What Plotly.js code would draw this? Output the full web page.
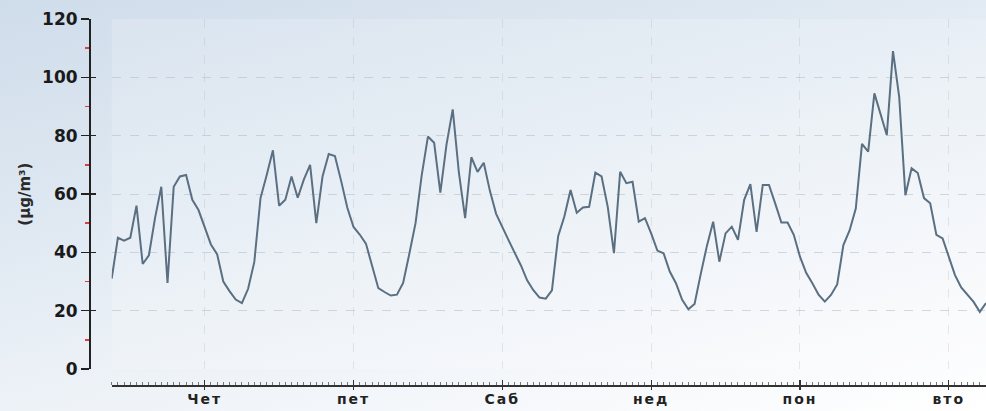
<!DOCTYPE html>
<html>
<head>
<meta charset="utf-8">
<script src="https://cdn.plot.ly/plotly-3.0.1.min.js"></script>
<style>
  html, body { margin: 0; padding: 0; }
  body {
    width: 986px; height: 411px; overflow: hidden;
    background: linear-gradient(165deg, #cfdcea 0%, #dde7f1 30%, #eaf0f6 55%, #f6f8fb 80%, #ffffff 100%);
  }
  #chart { width: 986px; height: 411px; }
  .xaxislayer-above .xtick text { letter-spacing: 2px; }
</style>
</head>
<body>
<div id="chart"></div>
<script>
// Hourly PM concentration (µg/m³), starting Wednesday 09:00
const values = [
  31, 45, 44, 45, 56, 36, 39, 51.9, 62.5, 29.5,
  62.5, 66, 66.5, 58, 54.5, 48.5, 42.7, 39.4, 30, 26.7,
  23.8, 22.6, 27.5, 36.7, 58.6, 66.5, 75, 56, 58, 66,
  58.7, 65, 70, 50, 66, 73.7, 73, 64.5, 55.3, 48.7,
  46.1, 43, 35.4, 27.7, 26.4, 25.2, 25.5, 29.5, 39.5, 50,
  66.5, 79.7, 77.6, 60.5, 77, 89, 67.2, 51.7, 72.6, 67.6,
  70.7, 61, 53.2, 48.5, 44.2, 39.8, 35.5, 30.4, 27, 24.5,
  24.1, 27, 45.5, 52.3, 61.4, 53.6, 55.4, 55.6, 67.3, 66,
  55.6, 39.7, 67.6, 63.7, 64.2, 50.5, 51.7, 46.5, 40.6, 39.7,
  33.4, 29.4, 23.7, 20.5, 22.3, 32.6, 42.3, 50.5, 36.8, 46.5,
  48.8, 44.3, 58, 63.4, 47, 63.1, 63.1, 56.8, 50.2, 50.2,
  46, 38.5, 33, 29.4, 25.5, 23.1, 25.4, 29, 42.5, 47.5,
  55, 77.2, 74.5, 94.5, 87, 80.2, 109, 93.3, 59.6, 68.8,
  67.2, 58.6, 56.8, 46, 44.8, 38.5, 32.2, 28, 25.4, 23,
  19.6, 22.6
];
const hours = values.map((v, i) => i);
const dayTickHours = [15, 39, 63, 87, 111, 135];
const dayLabels = ['Чет', 'пет', 'Саб', 'нед', 'пон', 'вто'];
const yTicks = [0, 20, 40, 60, 80, 100, 120];
const yMinorTicks = [10, 30, 50, 70, 90, 110];

const trace = {
  x: hours, y: values, type: 'scatter', mode: 'lines',
  line: { color: '#5a6f82', width: 2 },
  hoverinfo: 'skip', showlegend: false
};

const gridCol = 'rgba(175,182,192,0.5)';
const layout = {
  width: 986, height: 411,
  margin: { l: 89, r: 0, t: 19, b: 26, pad: 0 },
  paper_bgcolor: 'rgba(0,0,0,0)',
  plot_bgcolor: 'rgba(255,255,255,0.18)',
  showlegend: false,
  xaxis: {
    domain: [0.0253, 1], range: [0, 141],
    anchor: 'free', position: 0,
    tickmode: 'array', tickvals: dayTickHours, ticktext: dayLabels,
    ticks: 'outside', ticklen: 3, tickwidth: 1.3, tickcolor: '#333',
    ticklabelstandoff: -2,
    tickfont: { family: 'DejaVu Sans', size: 14, color: '#222', weight: 'bold' },
    showline: true, linecolor: '#333', linewidth: 1.5,
    showgrid: true, gridcolor: 'rgba(175,182,192,0.3)', griddash: 'dash', gridwidth: 1,
    zeroline: false, fixedrange: true,
    minor: { dtick: 1, tick0: 0, ticks: 'inside', ticklen: 3, tickcolor: '#777', tickwidth: 1, showgrid: false }
  },
  xaxis2: {
    overlaying: 'x', range: [0, 141], anchor: 'free', position: 0,
    tickmode: 'array', tickvals: dayTickHours,
    ticks: 'inside', ticklen: 5, tickwidth: 1.3, tickcolor: '#333',
    showticklabels: false, showgrid: false, showline: false, zeroline: false
  },
  yaxis: {
    domain: [0.0437, 1], range: [0, 120],
    anchor: 'free', position: 0,
    tickmode: 'array', tickvals: yTicks,
    ticks: 'outside', ticklen: 8, tickwidth: 1.3, tickcolor: '#222',
    tickfont: { family: 'DejaVu Sans', size: 17, color: '#1a1a1a', weight: 'bold' },
    showline: true, linecolor: '#222', linewidth: 1.5,
    showgrid: true, gridcolor: gridCol, griddash: 'dash', gridwidth: 1,
    zeroline: false, fixedrange: true
  },
  yaxis2: {
    overlaying: 'y', range: [0, 120], anchor: 'free', position: 0,
    tickmode: 'array', tickvals: yTicks,
    ticks: 'inside', ticklen: 6, tickwidth: 1.3, tickcolor: '#222',
    showticklabels: false, showgrid: false, showline: false, zeroline: false
  },
  yaxis3: {
    overlaying: 'y', range: [0, 120], anchor: 'free', position: 0,
    tickmode: 'array', tickvals: yMinorTicks,
    ticks: 'outside', ticklen: 4, tickwidth: 1.5, tickcolor: '#e03c3c',
    showticklabels: false, showgrid: false, showline: false, zeroline: false
  },
  annotations: [{
    text: '(µg/m³)', textangle: -90, showarrow: false,
    xref: 'paper', yref: 'paper', x: -0.0713, y: 0.52,
    xanchor: 'center', yanchor: 'middle',
    font: { family: 'DejaVu Sans', size: 15, color: '#2a2a2a', weight: 'bold' }
  }]
};

const dummyX2 = { x: [0], y: [0], xaxis: 'x2', yaxis: 'y2', type: 'scatter', mode: 'markers',
  marker: { opacity: 0 }, hoverinfo: 'skip', showlegend: false };
const dummyY3 = { x: [0], y: [0], xaxis: 'x', yaxis: 'y3', type: 'scatter', mode: 'markers',
  marker: { opacity: 0 }, hoverinfo: 'skip', showlegend: false };

Plotly.newPlot('chart', [trace, dummyX2, dummyY3], layout, { displayModeBar: false, staticPlot: true });
</script>
</body>
</html>
